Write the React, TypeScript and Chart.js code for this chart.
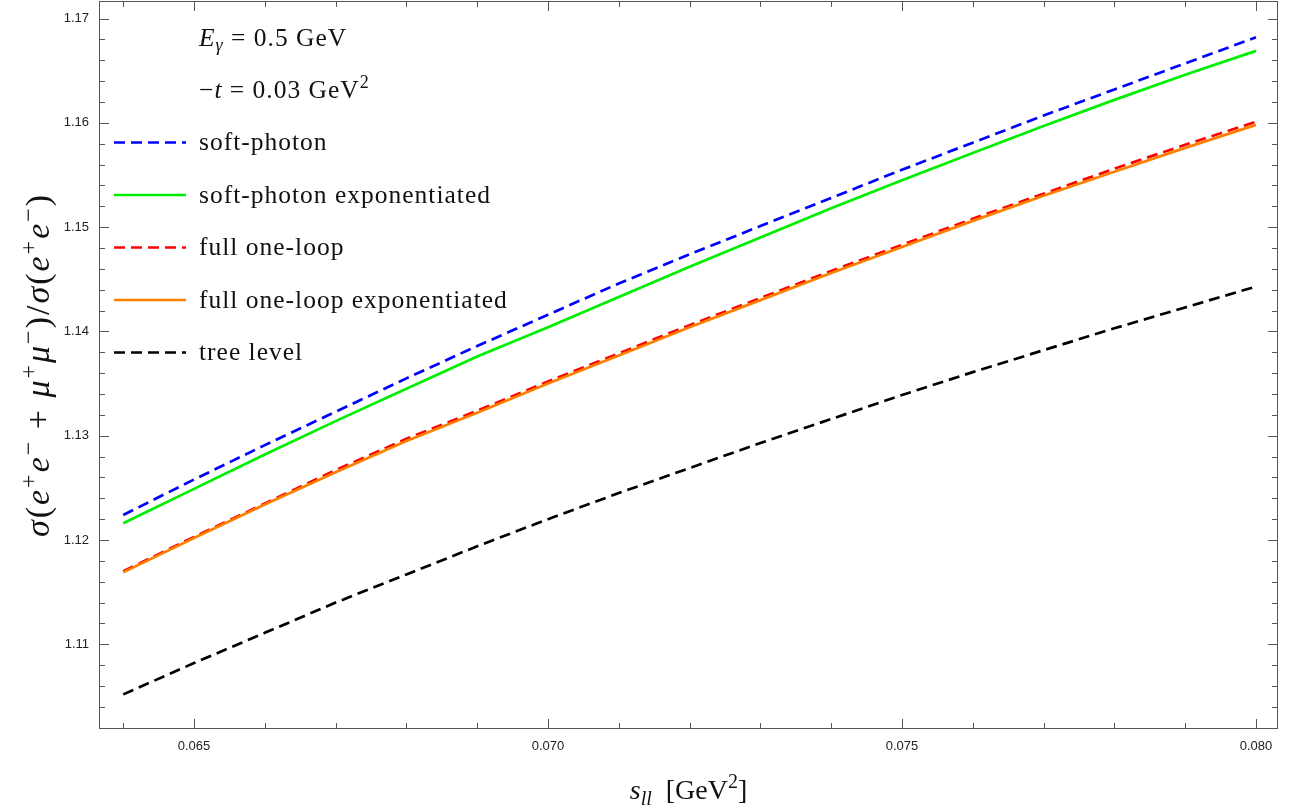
import { useEffect, useRef } from "react";
import { Chart, registerables } from "chart.js";

Chart.register(...registerables);

// ---- data ----
const sLL = [0.064, 0.065, 0.066, 0.067, 0.068, 0.069, 0.07, 0.071, 0.072, 0.073, 0.074, 0.075, 0.076, 0.077, 0.078, 0.079, 0.08];
const softPhoton = [1.1224, 1.1258, 1.1291, 1.1323, 1.1355, 1.1386, 1.1416, 1.1446, 1.1474, 1.1501, 1.1528, 1.1555, 1.1581, 1.1607, 1.1632, 1.1657, 1.1682];
const softPhotonExp = [1.1216, 1.1249, 1.1282, 1.1314, 1.1345, 1.1376, 1.1404, 1.1433, 1.1462, 1.149, 1.1518, 1.1545, 1.1571, 1.1597, 1.1622, 1.1646, 1.1669];
const fullOneLoop = [1.117, 1.1203, 1.1235, 1.1267, 1.1297, 1.1324, 1.1352, 1.1379, 1.1406, 1.1432, 1.1458, 1.1483, 1.1508, 1.1532, 1.1556, 1.1579, 1.1601];
const fullOneLoopExp = [1.1169, 1.1202, 1.1234, 1.1265, 1.1295, 1.1322, 1.135, 1.1377, 1.1404, 1.143, 1.1456, 1.1481, 1.1506, 1.153, 1.1553, 1.1576, 1.1598];
const treeLevel = [1.1052, 1.1082, 1.1111, 1.114, 1.1167, 1.1194, 1.122, 1.1245, 1.1269, 1.1293, 1.1316, 1.1339, 1.1361, 1.1382, 1.1403, 1.1423, 1.1443];

const seriesLabels = ["soft-photon", "soft-photon exponentiated", "full one-loop", "full one-loop exponentiated", "tree level"];

const xMajorTicks = [0.065, 0.07, 0.075, 0.08];
const xTickLabels = ["0.065", "0.070", "0.075", "0.080"];
const yMajorTicks = [1.11, 1.12, 1.13, 1.14, 1.15, 1.16, 1.17];
const yTickLabels = ["1.11", "1.12", "1.13", "1.14", "1.15", "1.16", "1.17"];

const X_MIN = 0.063658;
const X_MAX = 0.080311;
const Y_MIN = 1.10188;
const Y_MAX = 1.17168;

// ---- rich text helpers ----
type Seg = { t: string; it?: boolean; sub?: boolean; sup?: boolean };
const SERIF = '"Liberation Serif", "Times New Roman", serif';

const headerEnergy: Seg[] = [{ t: "E", it: true }, { t: "γ", it: true, sub: true }, { t: " = 0.5 GeV" }];
const headerT: Seg[] = [{ t: "−" }, { t: "t", it: true }, { t: " = 0.03 GeV" }, { t: "2", sup: true }];
const xTitle: Seg[] = [{ t: "s", it: true }, { t: "ll", it: true, sub: true }, { t: "  [GeV" }, { t: "2", sup: true }, { t: "]" }];
const yTitle: Seg[] = [
  { t: "σ", it: true }, { t: "(" }, { t: "e", it: true }, { t: "+", sup: true }, { t: "e", it: true }, { t: "−", sup: true },
  { t: " + " }, { t: "μ", it: true }, { t: "+", sup: true }, { t: "μ", it: true }, { t: "−", sup: true }, { t: ")/" },
  { t: "σ", it: true }, { t: "(" }, { t: "e", it: true }, { t: "+", sup: true }, { t: "e", it: true }, { t: "−", sup: true }, { t: ")" },
];

function segFont(s: Seg, size: number) {
  const sz = s.sub || s.sup ? Math.round(size * 0.7) : size;
  return `${s.it ? "italic " : ""}${sz}px ${SERIF}`;
}
function richWidth(ctx: CanvasRenderingContext2D, segs: Seg[], size: number) {
  let w = 0;
  for (const s of segs) {
    ctx.font = segFont(s, size);
    w += ctx.measureText(s.t).width;
  }
  return w;
}
function drawRich(ctx: CanvasRenderingContext2D, segs: Seg[], x: number, y: number, size: number) {
  let cx = x;
  ctx.textAlign = "left";
  ctx.textBaseline = "alphabetic";
  for (const s of segs) {
    ctx.font = segFont(s, size);
    const dy = s.sub ? size * 0.22 : s.sup ? -size * 0.4 : 0;
    ctx.fillText(s.t, cx, y + dy);
    cx += ctx.measureText(s.t).width;
  }
}

const framePlugin = {
  id: "mmaFrame",
  afterDraw(chart: any) {
    const { ctx, chartArea: a, scales } = chart;
    const xs = scales.x;
    const ys = scales.y;
    ctx.save();
    ctx.strokeStyle = "#555";
    ctx.lineWidth = 1;
    ctx.strokeRect(a.left + 0.5, a.top + 0.5, a.right - a.left - 1, a.bottom - a.top - 1);
    ctx.beginPath();
    for (let k = 64; k <= 80; k++) {
      const v = k / 1000;
      const major = k % 5 === 0;
      const len = major ? 10 : 6;
      const px = Math.round(xs.getPixelForValue(v)) + 0.5;
      ctx.moveTo(px, a.bottom);
      ctx.lineTo(px, a.bottom - len);
      ctx.moveTo(px, a.top);
      ctx.lineTo(px, a.top + len);
    }
    for (let k = 551; k <= 585; k++) {
      const v = k / 500;
      const major = k % 5 === 0;
      const len = major ? 10 : 6;
      const py = Math.round(ys.getPixelForValue(v)) + 0.5;
      ctx.moveTo(a.left, py);
      ctx.lineTo(a.left + len, py);
      ctx.moveTo(a.right, py);
      ctx.lineTo(a.right - len, py);
    }
    ctx.stroke();

    ctx.fillStyle = "#111";
    const xs2 = 28;
    const xw = richWidth(ctx, xTitle, xs2);
    drawRich(ctx, xTitle, (a.left + a.right) / 2 - xw / 2, 799, xs2);

    const ysz = 34;
    (ctx as any).letterSpacing = "2px";
    const yw = richWidth(ctx, yTitle, ysz);
    ctx.save();
    ctx.translate(39, (a.top + a.bottom) / 2);
    ctx.rotate(-Math.PI / 2);
    drawRich(ctx, yTitle, -yw / 2, ysz * 0.3, ysz);
    ctx.restore();

    const lsz = 25.5;
    (ctx as any).letterSpacing = "1px";
    const rowY = (i: number) => a.top + 36.5 + 52.5 * i;
    const textX = 199;
    drawRich(ctx, headerEnergy, textX, rowY(0) + 8, lsz);
    drawRich(ctx, headerT, textX, rowY(1) + 8, lsz);
    const ds = chart.data.datasets;
    for (let i = 0; i < ds.length; i++) {
      const d = ds[i];
      const y = rowY(i + 2);
      ctx.save();
      ctx.strokeStyle = d.borderColor;
      ctx.lineWidth = d.borderWidth;
      ctx.setLineDash(d.borderDash || []);
      ctx.beginPath();
      ctx.moveTo(114, y);
      ctx.lineTo(186, y);
      ctx.stroke();
      ctx.restore();
      ctx.fillStyle = "#111";
      drawRich(ctx, [{ t: d.label }], textX, y + 7.5, lsz);
    }
    (ctx as any).letterSpacing = "0px";
    ctx.restore();
  },
};

export default function App() {
  const ref = useRef<HTMLCanvasElement | null>(null);
  useEffect(() => {
    if (!ref.current) return;
    const pts = (arr: number[]) => sLL.map((x, i) => ({ x, y: arr[i] }));
    const dash = [11, 6];
    const chart = new Chart(ref.current, {
      type: "line",
      data: {
        datasets: [
          { label: seriesLabels[0], data: pts(softPhoton), borderColor: "#0000ff", borderWidth: 2.7, borderDash: dash, pointRadius: 0, order: 1 },
          { label: seriesLabels[1], data: pts(softPhotonExp), borderColor: "#00ee00", borderWidth: 2.7, pointRadius: 0, order: 2 },
          { label: seriesLabels[2], data: pts(fullOneLoop), borderColor: "#ff0000", borderWidth: 2.7, borderDash: dash, pointRadius: 0, order: 4 },
          { label: seriesLabels[3], data: pts(fullOneLoopExp), borderColor: "#ff8000", borderWidth: 2.7, pointRadius: 0, order: 3 },
          { label: seriesLabels[4], data: pts(treeLevel), borderColor: "#000000", borderWidth: 2.7, borderDash: dash, pointRadius: 0, order: 5 },
        ] as any,
      },
      options: {
        animation: false,
        responsive: false,
        layout: { padding: { left: 0, top: 1, right: 17, bottom: 0 } },
        plugins: { legend: { display: false }, tooltip: { enabled: false } },
        scales: {
          x: {
            type: "linear",
            min: X_MIN,
            max: X_MAX,
            grid: { display: false, drawTicks: false },
            border: { display: false },
            afterBuildTicks: (s: any) => {
              s.ticks = xMajorTicks.map((v) => ({ value: v }));
            },
            afterFit: (s: any) => {
              s.height = 82;
              s.paddingLeft = 0;
              s.paddingRight = 0;
            },
            ticks: {
              padding: 10,
              color: "#222",
              font: { family: '"Liberation Sans", Arial, sans-serif', size: 13 },
              maxRotation: 0,
              callback: (v: any) => xTickLabels[xMajorTicks.indexOf(Number(v))] ?? "",
            },
          },
          y: {
            type: "linear",
            min: Y_MIN,
            max: Y_MAX,
            grid: { display: false, drawTicks: false },
            border: { display: false },
            afterBuildTicks: (s: any) => {
              s.ticks = yMajorTicks.map((v) => ({ value: v }));
            },
            afterFit: (s: any) => {
              s.width = 99;
              s.paddingTop = 0;
              s.paddingBottom = 0;
            },
            ticks: {
              padding: 10,
              color: "#222",
              font: { family: '"Liberation Sans", Arial, sans-serif', size: 13 },
              callback: (v: any) => yTickLabels[yMajorTicks.indexOf(Number(v))] ?? "",
            },
          },
        },
      },
      plugins: [framePlugin],
    });
    return () => chart.destroy();
  }, []);
  return (
    <div style={{ position: "fixed", left: 0, top: 0, width: 1295, height: 811, background: "#fff" }}>
      <canvas ref={ref} width={1295} height={811} style={{ display: "block" }} />
    </div>
  );
}
